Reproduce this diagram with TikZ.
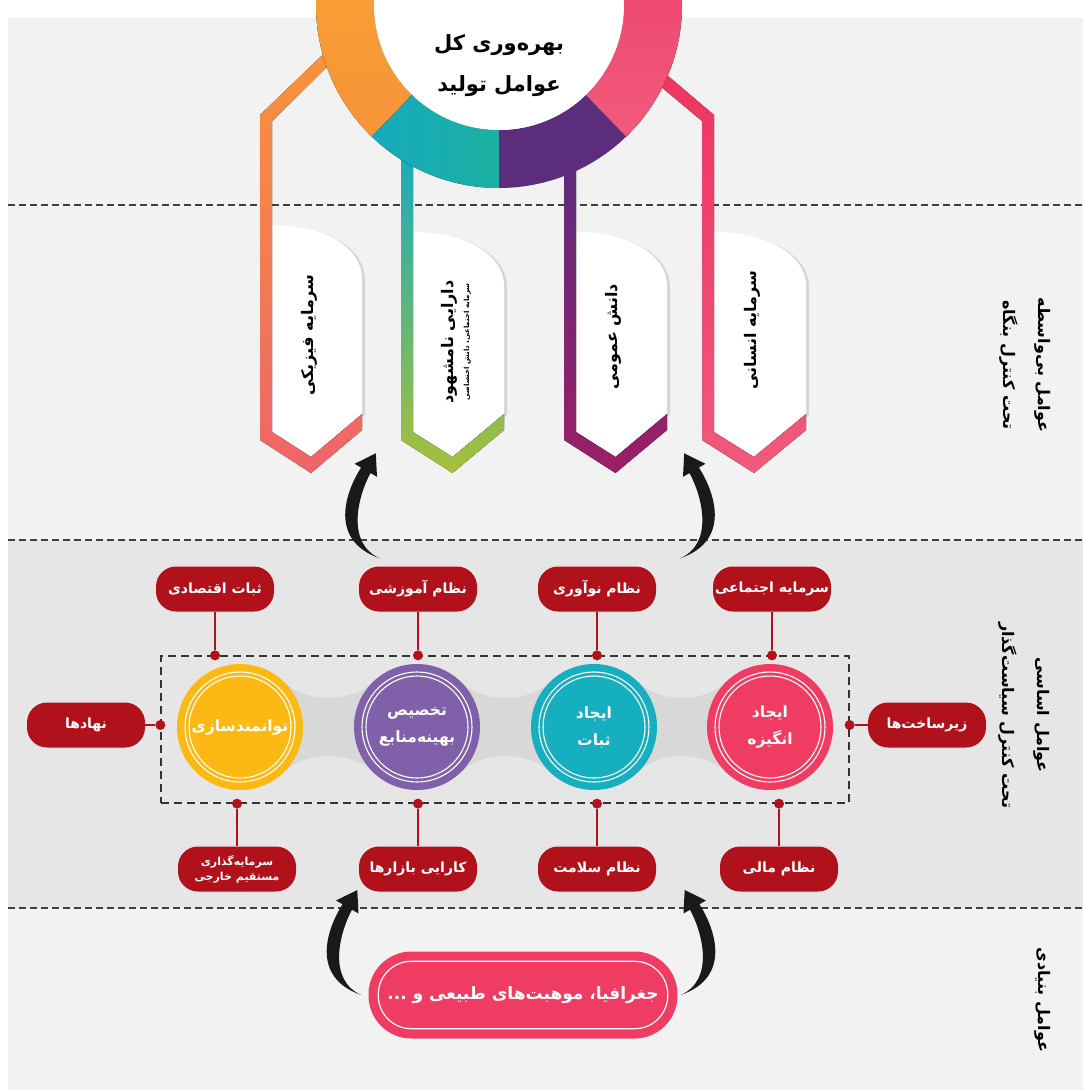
\documentclass[tikz,border=0pt]{standalone}
\usepackage{fontspec}
\usepackage{tikz}
\usetikzlibrary{arrows.meta, positioning, calc, shadows}
\newfontfamily\persfont[Script=Arabic]{DejaVu Sans}
\TeXXeTstate=1
\newcommand{\rtltext}[1]{\beginR #1\endR}

\definecolor{pillred}{HTML}{B1111B}
\definecolor{ringorange}{HTML}{F7943A}
\definecolor{ringteal}{HTML}{17ABBF}
\definecolor{ringgreen}{HTML}{1BB1A0}
\definecolor{ringpurple}{HTML}{5C2D7C}
\definecolor{ringpink}{HTML}{EE3560}
\definecolor{tagsalmon}{HTML}{F0646A}
\definecolor{taggreen}{HTML}{A8C03A}
\definecolor{tagmagenta}{HTML}{9C1F66}
\definecolor{taglight}{HTML}{F05A7C}
\definecolor{cyellow}{HTML}{FDB913}
\definecolor{cpurple}{HTML}{8060A8}
\definecolor{cteal}{HTML}{16AFC0}
\definecolor{cpink}{HTML}{EF3C62}
\definecolor{panelgray}{HTML}{F2F2F2}
\definecolor{midgray}{HTML}{E6E6E6}
\definecolor{bandgray}{HTML}{D8D8D8}

\begin{document}
\begin{tikzpicture}[
    x=1pt, y=-1pt,
    sepline/.style={black!75, line width=1.2pt, dash pattern=on 7pt off 4pt},
    dashbox/.style={draw=black!80, line width=1.3pt, dash pattern=on 8pt off 5pt, minimum width=688pt, minimum height=147pt, inner sep=0pt},
    tagbody/.style={fill=white, drop shadow={opacity=0.25, shadow xshift=3pt, shadow yshift=-1pt}},
    tagtext/.style={rotate=90, align=center, font=\persfont\bfseries\fontsize{16}{19}\selectfont},
    sidelabel/.style={rotate=-90, align=center, font=\persfont\bfseries\fontsize{16}{35}\selectfont},
    pill/.style={fill=pillred, text=white, rounded corners=20pt, minimum width=118pt, minimum height=45pt, inner sep=2pt, align=center, font=\persfont\bfseries\fontsize{14}{16}\selectfont},
    hub/.style={circle, fill=#1, minimum size=126pt, inner sep=0pt, text=white, align=center, font=\persfont\bfseries\fontsize{15.5}{27}\selectfont},
    hubring/.style={white, line width=1.1pt},
    dot/.style={circle, fill=pillred, minimum size=10pt, inner sep=0pt},
    link/.style={pillred, line width=1.6pt},
    tarrow/.pic={\fill[black!90] (0,0) .. controls (-52,-18) and (-34,-67) .. (-18.7,-90.75) -- (-25.2,-94.5) -- (-4,-105) -- (-2.8,-81.5) -- (-9.3,-85.25) .. controls (-22,-62) and (-34,-15) .. (0,0) -- cycle;}
]
\useasboundingbox (0,0) rectangle (1083,1090);
\clip (0,0) rectangle (1083,1090);

% backgrounds
\fill[white] (0,0) rectangle (1083,1090);
\fill[panelgray] (8,18) rectangle (1083,1090);
\fill[midgray] (8,540) rectangle (1083,908);
\draw[sepline] (8,205) -- (1083,205);
\draw[sepline] (8,540) -- (1083,540);
\draw[sepline] (8,908) -- (1083,908);

% tags
\fill[tagbody] (272,225) .. controls (324,225) and (362,247) .. (362,279) -- (362,414) -- (311,457) -- (272,432) -- cycle;
\fill[top color=ringorange, bottom color=tagsalmon] (336,42) -- (260,115) -- (260,440) -- (311,473) -- (362,430) -- (362,414) -- (311,457) -- (272,432) -- (272,121) -- (344,50) -- cycle;

\fill[tagbody] (413,232) .. controls (465,232) and (504,254) .. (504,286) -- (504,414) -- (452.5,457) -- (413,432) -- cycle;
\fill[top color=ringteal, bottom color=taggreen] (401,150) -- (401,440) -- (452.5,473) -- (504,430) -- (504,414) -- (452.5,457) -- (413,432) -- (413,150) -- cycle;

\fill[tagbody] (576,232) .. controls (628,232) and (667,254) .. (667,286) -- (667,414) -- (615.5,457) -- (576,432) -- cycle;
\fill[top color=ringpurple, bottom color=tagmagenta] (564,160) -- (564,440) -- (615.5,473) -- (667,430) -- (667,414) -- (615.5,457) -- (576,432) -- (576,160) -- cycle;

\fill[tagbody] (714,232) .. controls (766,232) and (806,254) .. (806,286) -- (806,414) -- (754,457) -- (714,432) -- cycle;
\fill[top color=ringpink, bottom color=taglight] (653,80) -- (702,121) -- (702,440) -- (754,473) -- (806,430) -- (806,414) -- (754,457) -- (714,432) -- (714,115) -- (661,70) -- cycle;

\node[tagtext] (t1) at (309,335) {\rtltext{سرمایه فیزیکی}};
\node[tagtext] (t2) at (456,342) {\rtltext{دارایی نامشهود}\\[-3pt]{\fontsize{7}{8}\selectfont\rtltext{سرمایه اجتماعی، دانش اختصاصی}}};
\node[tagtext] (t3) at (613,337) {\rtltext{دانش عمومی}};
\node[tagtext] (t4) at (752,330) {\rtltext{سرمایه انسانی}};

% ring
\coordinate (rc) at (499,5);
\fill[top color=ringorange!80!yellow, bottom color=ringorange] ($(rc)+(134:183)$) arc[start angle=134, end angle=270, radius=183] -- ($(rc)+(270:125)$) arc[start angle=270, end angle=134, radius=125] -- cycle;
\fill[left color=ringteal, right color=ringgreen] ($(rc)+(90:183)$) arc[start angle=90, end angle=134, radius=183] -- ($(rc)+(134:125)$) arc[start angle=134, end angle=90, radius=125] -- cycle;
\fill[ringpurple] ($(rc)+(46:183)$) arc[start angle=46, end angle=90, radius=183] -- ($(rc)+(90:125)$) arc[start angle=90, end angle=46, radius=125] -- cycle;
\fill[top color=ringpink, bottom color=taglight] ($(rc)+(-90:183)$) arc[start angle=-90, end angle=46, radius=183] -- ($(rc)+(46:125)$) arc[start angle=46, end angle=-90, radius=125] -- cycle;
\fill[white] (rc) circle[radius=125];
\node[align=center, font=\persfont\bfseries\fontsize{21}{41}\selectfont] (title) at (499,66) {\rtltext{بهره‌وری کل}\\\rtltext{عوامل تولید}};

% side labels
\node[sidelabel] (s1) at (1025,365) {\rtltext{عوامل بی‌واسطه}\\\rtltext{تحت کنترل بنگاه}};
\node[sidelabel] (s2) at (1024,715) {\rtltext{عوامل اساسی}\\\rtltext{تحت کنترل سیاست‌گذار}};
\node[sidelabel] (s3) at (1043,1000) {\rtltext{عوامل بنیادی}};

% hubs
\fill[bandgray] (284.5,682.5) .. controls (306,703) and (351,703) .. (372.5,682.5) -- (461.5,682.5) .. controls (483,703) and (528,703) .. (549.5,682.5) -- (638.5,682.5) .. controls (660,703) and (704,703) .. (725.5,682.5) -- (725.5,771.5) .. controls (704,751) and (660,751) .. (638.5,771.5) -- (549.5,771.5) .. controls (528,751) and (483,751) .. (461.5,771.5) -- (372.5,771.5) .. controls (351,751) and (306,751) .. (284.5,771.5) -- cycle;
\node[dashbox] (frame) at (505,729.5) {};
\node[hub=cyellow] (c1) at (240,727) {\rtltext{توانمندسازی}};
\node[hub=cpurple] (c2) at (417,727) {\rtltext{تخصیص}\\\rtltext{بهینه‌منابع}};
\node[hub=cteal] (c3) at (594,727) {\rtltext{ایجاد}\\\rtltext{ثبات}};
\node[hub=cpink] (c4) at (770,727) {\rtltext{ایجاد}\\\rtltext{انگیزه}};
\draw[hubring] (c1) circle[radius=55] (c1) circle[radius=51];
\draw[hubring] (c2) circle[radius=55] (c2) circle[radius=51];
\draw[hubring] (c3) circle[radius=55] (c3) circle[radius=51];
\draw[hubring] (c4) circle[radius=55] (c4) circle[radius=51];

% top pills
\node[pill] (p1) at (215,589) {\rtltext{ثبات اقتصادی}};
\node[pill] (p2) at (418,589) {\rtltext{نظام آموزشی}};
\node[pill] (p3) at (597,589) {\rtltext{نظام نوآوری}};
\node[pill] (p4) at (772,589) {\rtltext{سرمایه اجتماعی}};
\node[dot] (d1) at (p1 |- frame.north) {};
\node[dot] (d2) at (p2 |- frame.north) {};
\node[dot] (d3) at (p3 |- frame.north) {};
\node[dot] (d4) at (p4 |- frame.north) {};
\draw[link] (p1) -- (d1); \draw[link] (p2) -- (d2); \draw[link] (p3) -- (d3); \draw[link] (p4) -- (d4);

% bottom pills
\node[pill, font=\persfont\bfseries\fontsize{11}{15}\selectfont] (q1) at (237,869) {\rtltext{سرمایه‌گذاری}\\\rtltext{مستقیم خارجی}};
\node[pill] (q2) at (418,869) {\rtltext{کارایی بازارها}};
\node[pill] (q3) at (597,869) {\rtltext{نظام سلامت}};
\node[pill] (q4) at (779,869) {\rtltext{نظام مالی}};
\node[dot] (e1) at (q1 |- frame.south) {};
\node[dot] (e2) at (q2 |- frame.south) {};
\node[dot] (e3) at (q3 |- frame.south) {};
\node[dot] (e4) at (q4 |- frame.south) {};
\draw[link] (q1) -- (e1); \draw[link] (q2) -- (e2); \draw[link] (q3) -- (e3); \draw[link] (q4) -- (e4);

% side pills
\node[pill] (nahad) at (86,725) {\rtltext{نهادها}};
\node[pill] (zir) at (927,725) {\rtltext{زیرساخت‌ها}};
\node[dot] (dl) at (frame.west |- nahad) {};
\node[dot] (dr) at (frame.east |- zir) {};
\draw[link] (nahad) -- (dl); \draw[link] (zir) -- (dr);

% base factors
\node[fill=cpink, text=white, rounded corners=43pt, minimum width=309pt, minimum height=87pt, font=\persfont\bfseries\fontsize{17}{20}\selectfont] (geo) at (523,995) {\rtltext{جغرافیا، موهبت‌های طبیعی و ...}};
\draw[white, line width=1.2pt, rounded corners=33pt] ([shift={(10pt,-10pt)}]geo.north west) rectangle ([shift={(-10pt,10pt)}]geo.south east);

% curved arrows
\pic at ([xshift=-7pt]geo.west) {tarrow};
\pic[xscale=-1] at ([xshift=3pt]geo.east) {tarrow};
\pic at ([xshift=21pt, yshift=8pt]p2.north west) {tarrow};
\pic[xscale=-1] at ([xshift=24pt, yshift=8pt]p3.north east) {tarrow};
\end{tikzpicture}
\end{document}
